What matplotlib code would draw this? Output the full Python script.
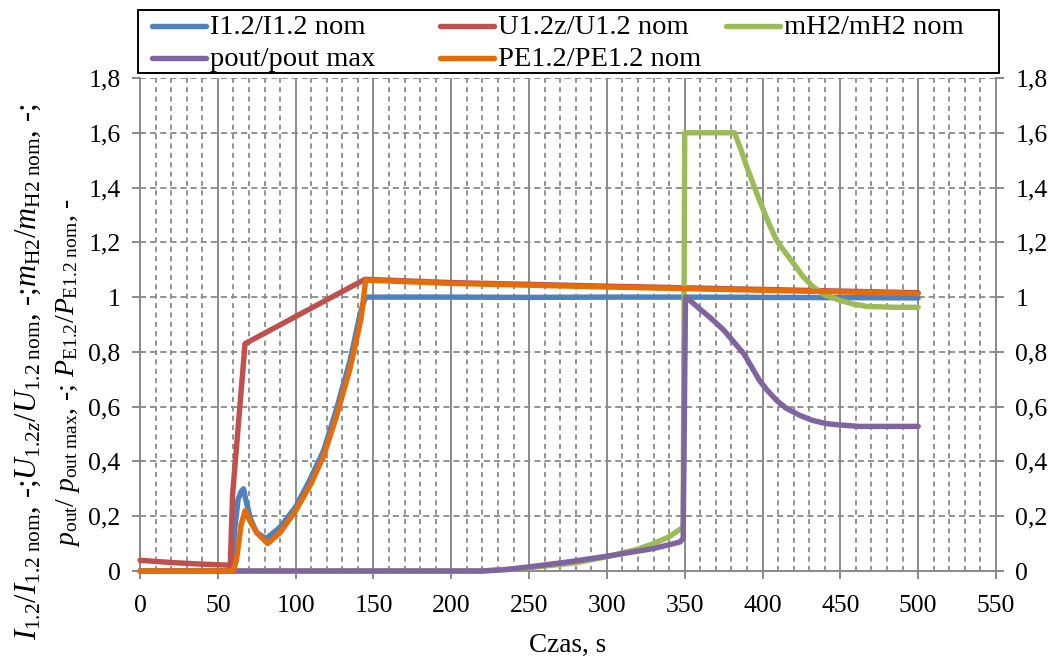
import matplotlib
matplotlib.use('Agg')
import matplotlib.pyplot as plt
from matplotlib.ticker import MultipleLocator, FuncFormatter
from matplotlib.lines import Line2D
from matplotlib.patches import Rectangle

plt.rcParams['font.family'] = ['Liberation Serif', 'DejaVu Serif']
plt.rcParams['mathtext.fontset'] = 'custom'
plt.rcParams['mathtext.rm'] = 'Liberation Serif'
plt.rcParams['mathtext.it'] = 'Liberation Serif:italic'
plt.rcParams['mathtext.bf'] = 'Liberation Serif:bold'

# ---------------- data ----------------
t_I = [0, 57, 59, 61, 63, 65, 66.5, 68, 71, 75, 81, 90, 100, 109, 118, 126, 135, 141, 143, 145,
       200, 250, 300, 350, 400, 450, 500]
I_rel = [0, 0, 0.03, 0.16, 0.26, 0.29, 0.30, 0.26, 0.19, 0.14, 0.118, 0.16, 0.234, 0.331, 0.44, 0.586,
         0.769, 0.927, 0.97, 1.0, 1.0, 0.999, 1.0, 1.0, 0.999, 0.998, 0.997]

t_U = [0, 10, 20, 30, 40, 50, 58, 59.5, 67.5, 144.6, 200, 300, 400, 500]
U_rel = [0.039, 0.035, 0.031, 0.028, 0.025, 0.023, 0.021, 0.28, 0.83, 1.065, 1.053, 1.040, 1.028, 1.016]

t_mH2 = [0, 220, 250, 280, 300, 320, 330, 340, 349, 350, 382, 386, 390, 398, 404, 409, 415, 420, 426,
         432.6, 440, 450, 458, 467, 485, 500]
mH2_rel = [0, 0, 0.012, 0.03, 0.052, 0.08, 0.10, 0.125, 0.16, 1.6, 1.6, 1.54, 1.474, 1.353, 1.27, 1.207,
           1.16, 1.122, 1.075, 1.037, 1.008, 0.988, 0.975, 0.966, 0.963, 0.963]

t_p = [0, 220, 235, 252.8, 275, 300, 330, 347, 349, 350.5, 355, 360, 366, 375, 388, 393, 398, 403, 409,
       415, 424, 432, 441, 450, 462, 500]
p_rel = [0, 0, 0.005, 0.017, 0.033, 0.054, 0.082, 0.106, 0.12, 1.0, 0.98, 0.955, 0.927, 0.88, 0.793,
         0.745, 0.696, 0.66, 0.623, 0.595, 0.568, 0.55, 0.538, 0.533, 0.528, 0.528]

t_PE = [0, 60, 62, 65, 67.5, 70, 75, 82, 90, 100, 110, 118, 126, 135, 142, 145, 200, 300, 400, 500]
PE_rel = [0, 0, 0.04, 0.17, 0.22, 0.19, 0.14, 0.10, 0.14, 0.22, 0.32, 0.42, 0.56, 0.74, 0.92, 1.062,
          1.050, 1.037, 1.025, 1.013]

labels = ['I1.2/I1.2 nom', 'U1.2z/U1.2 nom', 'mH2/mH2 nom', 'pout/pout max', 'PE1.2/PE1.2 nom']
colors = ['#4F81BD', '#C0504D', '#9BBB59', '#8064A2', '#E46C0A']
x_ticks = [0, 50, 100, 150, 200, 250, 300, 350, 400, 450, 500, 550]

series = [(t_I, I_rel), (t_U, U_rel), (t_mH2, mH2_rel), (t_p, p_rel), (t_PE, PE_rel)]

# ---------------- figure ----------------
W, H = 1063, 662
fig = plt.figure(figsize=(W / 100, H / 100), dpi=100)
ax = fig.add_axes([140 / W, 1 - 571 / H, (996 - 140) / W, (571 - 78) / H])

gray = '#8a8a8a'
for i, ((t, v), c) in enumerate(zip(series, colors)):
    ax.plot(t, v, color=c, lw=3.9, solid_capstyle='round', solid_joinstyle='round',
            clip_on=False, zorder=3 + i)

ax.set_xlim(0, 550)
ax.set_ylim(0, 1.8)
ax.set_xticks(x_ticks)
ax.xaxis.set_minor_locator(MultipleLocator(10))
ax.yaxis.set_major_locator(MultipleLocator(0.2))
ax.yaxis.set_major_formatter(FuncFormatter(lambda v, p: ('%g' % round(v, 1)).replace('.', ',')))

ax.set_axisbelow(True)
ax.grid(True, which='major', axis='x', color=gray, lw=1.4, ls='-')
ax.grid(True, which='minor', axis='x', color=gray, lw=1.3, ls=(0, (2.8, 2.4)))
ax.grid(True, which='major', axis='y', color=gray, lw=1.3, ls=(0, (3.4, 2.2)))

ax.tick_params(axis='x', which='major', direction='out', length=6, width=1.4, color=gray,
               labelsize=18.5, pad=11)
ax.tick_params(axis='x', which='minor', length=0)
ax.tick_params(axis='y', which='major', direction='out', length=6, width=1.4, color=gray,
               labelsize=18.5, left=True, right=True, labelleft=True, labelright=True, pad=8)

ax.spines['top'].set_visible(False)
for s in ['left', 'bottom', 'right']:
    ax.spines[s].set_color(gray)
    ax.spines[s].set_linewidth(1.4)

ax.set_xlabel('Czas, s', fontsize=19.5, labelpad=12)

line1 = (r'$I_{\mathrm{1.2}}/I_{\mathrm{1.2\ nom}}$, -;$U_{\mathrm{1.2}z}/U_{\mathrm{1.2\ nom}}$, -;'
         r'$m_{\mathrm{H2}}/m_{\mathrm{H2\ nom}}$, -;')
line2 = r'$p_{\mathrm{out}}/\ p_{\mathrm{out\ max}}$, -; $P_{\mathrm{E1.2}}/P_{\mathrm{E1.2\ nom}}$, -'
fig.text(28 / W, 1 - 372 / H, line1, rotation=90, ha='center', va='center', fontsize=22)
fig.text(68 / W, 1 - 372 / H, line2, rotation=90, ha='center', va='center', fontsize=20)

# ---------------- legend (Excel-like equal columns) ----------------
fig.add_artist(Rectangle((138 / W, 1 - 73 / H), 861 / W, 63 / H, transform=fig.transFigure,
                         fill=False, edgecolor='black', lw=1.4, zorder=10))
col_x = [152, 440, 726]
row_y = [26, 58]
for k in range(len(labels)):
    r, cidx = divmod(k, 3)
    x0 = col_x[cidx]
    y0 = row_y[r]
    fig.add_artist(Line2D([x0 / W, (x0 + 54) / W], [1 - y0 / H, 1 - y0 / H], transform=fig.transFigure,
                          color=colors[k], lw=3.9, solid_capstyle='round', zorder=11))
    fig.text((x0 + 58) / W, 1 - (y0 + 1) / H, labels[k], ha='left', va='center', fontsize=20.5, zorder=11)

fig.savefig('out.png', dpi=100)
